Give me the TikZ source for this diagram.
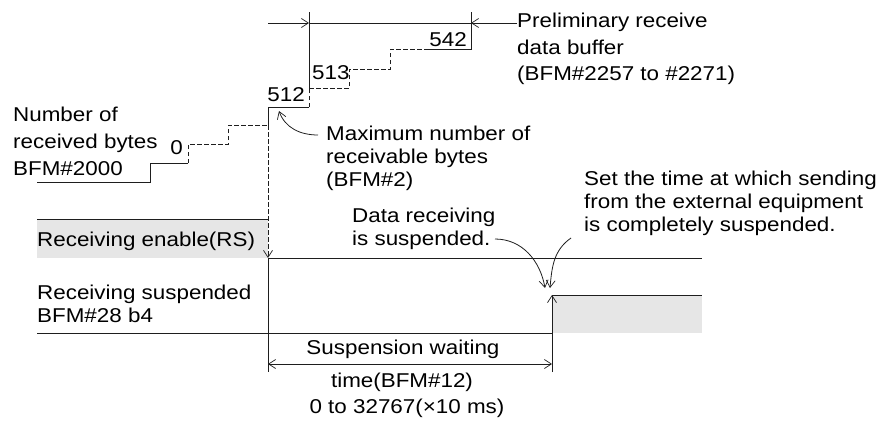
\documentclass[tikz,border=0pt]{standalone}
\usepackage{fontspec}
\setmainfont{Liberation Sans}[FakeStretch=1.12]
\usetikzlibrary{arrows.meta}
\definecolor{lightfill}{RGB}{230,230,230}
\definecolor{linecol}{RGB}{30,30,30}
\tikzset{
  txt/.style={inner sep=0pt, anchor=base west, font=\fontsize{20}{23}\selectfont, text=black},
  txtr/.style={txt, anchor=base east},
  txtc/.style={txt, anchor=base},
  wire/.style={draw=linecol, line width=0.8pt},
  dashwire/.style={wire, dash pattern=on 4.5pt off 2.5pt},
  tip/.style={-{Straight Barb[length=7pt,width=9pt,line width=0.7pt]}},
  dtip/.style={{Straight Barb[length=7pt,width=9pt,line width=0.7pt]}-{Straight Barb[length=7pt,width=9pt,line width=0.7pt]}}
}
\begin{document}
\begin{tikzpicture}[x=1pt,y=-1pt]
\useasboundingbox (0,0) rectangle (880,423);

% gray fills
\fill[lightfill] (37,219) rectangle (268,258);
\fill[lightfill] (552,295) rectangle (702,333);

% coordinates of the timing chart
\coordinate (a0) at (37,182);
\coordinate (a1) at (150,182);
\coordinate (a2) at (150,163);
\coordinate (a3) at (188,163);
\coordinate (a4) at (188,144);
\coordinate (a5) at (228,144);
\coordinate (a6) at (228,125);
\coordinate (a7) at (268,125);
\coordinate (a8) at (268,107);
\coordinate (a9) at (309,107);
\coordinate (a10) at (309,88);
\coordinate (a11) at (349,88);
\coordinate (a12) at (349,69);
\coordinate (a13) at (390,69);
\coordinate (a14) at (390,49);
\coordinate (a15) at (427,49);
\coordinate (a16) at (471,49);
\coordinate (a17) at (471,12);
\coordinate (a18) at (309,12);
\coordinate (t0) at (268,23);
\coordinate (t1) at (309,23);
\coordinate (t2) at (471,23);
\coordinate (rsdown) at (268,258);
\coordinate (rsend) at (702,258);
\coordinate (rstop) at (37,219);
\coordinate (rstopr) at (268,219);
\coordinate (low0) at (37,333);
\coordinate (rise) at (552,333);
\coordinate (risetop) at (552,295);
\coordinate (highend) at (702,295);
\coordinate (v1bot) at (268,372);
\coordinate (v2bot) at (552,372);
\coordinate (d0) at (268,364);
\coordinate (d1) at (552,364);

% staircase
\draw[wire] (a0) -- (a1) -- (a2) -- (a3);
\draw[dashwire] (a3) -- (a4) -- (a5) -- (a6) -- (a7);
\draw[wire] (a7) -- (a8) -- (a9);
\draw[dashwire] (a9) -- (a10);
\draw[wire] (a10) -- (a18);
\draw[dashwire] (a10) -- (a11) -- (a12) -- (a13) -- (a14) -- (a15);
\draw[wire] (a15) -- (a16) -- (a17);
\draw[dashwire, tip] (a7) -- (rsdown);

% top dimension
\draw[wire, tip] (t0) -- (t1);
\draw[wire] (t1) -- (t2);

% receiving enable
\draw[wire] (rstop) -- (rstopr);
\draw[wire] (rsdown) -- (rsend);
\draw[wire] (rsdown) -- (v1bot);

% receiving suspended
\draw[wire] (low0) -- (rise);
\draw[wire, tip] (v2bot) -- (risetop);
\draw[wire] (risetop) -- (highend);

% suspension waiting dimension
\draw[wire, dtip] (d0) -- (d1);

% labels
\node[txt] (nr1) at (13,121) {Number of};
\node[txt] (nr2) at (13,148) {received bytes};
\node[txt] (nr3) at (13,175) {BFM\#2000};
\node[txtr] (v0) at (183,154) {0};
\node[txtr] (v512) at (305,101) {512};
\node[txt] (v513) at (312,79) {513};
\node[txtr] (v542) at (467,46) {542};
\node[txt] (pr1) at (517,27.5) {Preliminary receive};
\node[txt] (pr2) at (517,54) {data buffer};
\node[txt] (pr3) at (517,80.5) {(BFM\#2257 to \#2271)};
\node[txt] (mx1) at (326,140.7) {Maximum number of};
\node[txt] (mx2) at (326,163.3) {receivable bytes};
\node[txt] (mx3) at (326,186) {(BFM\#2)};
\node[txt] (dr1) at (352,222) {Data receiving};
\node[txt] (dr2) at (352,245) {is suspended.};
\node[txt] (st1) at (584,185) {Set the time at which sending};
\node[txt] (st2) at (584,208) {from the external equipment};
\node[txt] (st3) at (584,231) {is completely suspended.};
\node[txt] (rse) at (37,246) {Receiving enable(RS)};
\node[txt] (rsu1) at (37,299) {Receiving suspended};
\node[txt] (rsu2) at (37,322) {BFM\#28 b4};
\node[txtc] (sw1) at (403,354) {Suspension waiting};
\node[txtc] (sw2) at (402,387) {time(BFM\#12)};
\node[txtc] (sw3) at (407,413) {0 to 32767(×10 ms)};

% leader arrows
\draw[wire, tip] (pr1.west |- t2) -- (t2);
\coordinate (mxs) at (318,135);
\coordinate (mxt) at (279,111);
\draw[wire, tip] (mxs) to[out=180, in=-70] (mxt);
\coordinate (drs) at (495,239);
\coordinate (drt) at (545,288);
\draw[wire, tip] (drs) to[out=0, in=100] (drt);
\coordinate (sts) at (571,238);
\coordinate (stt) at (550,288);
\draw[wire, tip] (sts) to[out=215, in=85] (stt);
\end{tikzpicture}
\end{document}
